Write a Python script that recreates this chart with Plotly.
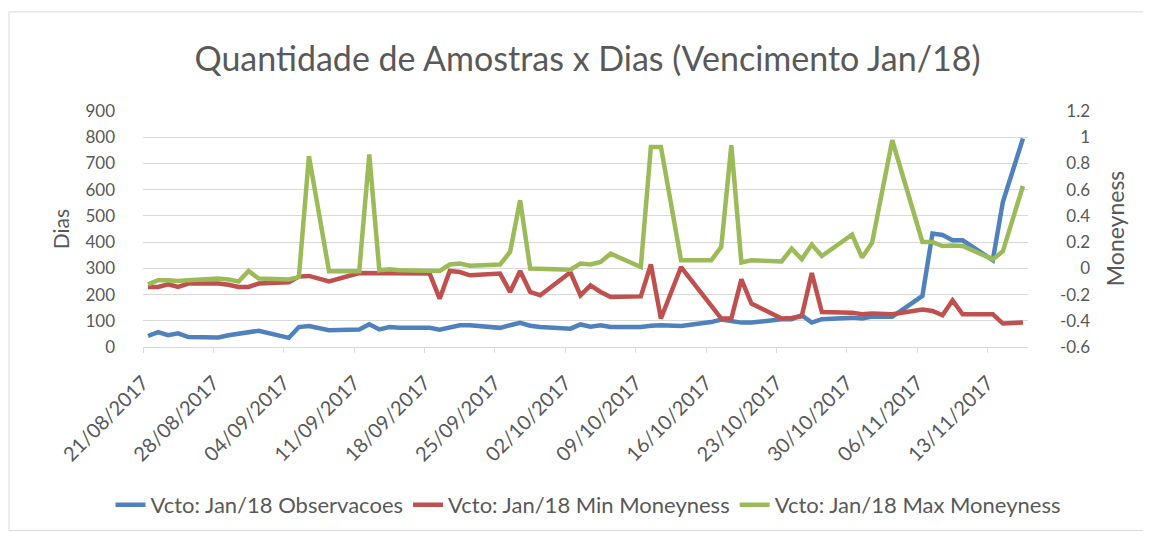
import pandas as pd
import plotly.graph_objects as go

# ---------------- data ----------------
dates = [
    "2017-08-21", "2017-08-22", "2017-08-23", "2017-08-24", "2017-08-25",
    "2017-08-28", "2017-08-29", "2017-08-30", "2017-08-31", "2017-09-01",
    "2017-09-04", "2017-09-05", "2017-09-06", "2017-09-08",
    "2017-09-11", "2017-09-12", "2017-09-13", "2017-09-14", "2017-09-15",
    "2017-09-18", "2017-09-19", "2017-09-20", "2017-09-21", "2017-09-22",
    "2017-09-25", "2017-09-26", "2017-09-27", "2017-09-28", "2017-09-29",
    "2017-10-02", "2017-10-03", "2017-10-04", "2017-10-05", "2017-10-06",
    "2017-10-09", "2017-10-10", "2017-10-11", "2017-10-13",
    "2017-10-16", "2017-10-17", "2017-10-18", "2017-10-19", "2017-10-20",
    "2017-10-23", "2017-10-24", "2017-10-25", "2017-10-26", "2017-10-27",
    "2017-10-30", "2017-10-31", "2017-11-01", "2017-11-03",
    "2017-11-06", "2017-11-07", "2017-11-08", "2017-11-09", "2017-11-10",
    "2017-11-13", "2017-11-14", "2017-11-16",
]

observacoes = [
    42, 57, 45, 52, 38,
    36, 45, 50, 55, 62,
    35, 76, 80, 64,
    67, 87, 67, 76, 73,
    73, 66, 76, 83, 83,
    73, 83, 92, 81, 76,
    70, 86, 77, 83, 76,
    76, 81, 83, 80,
    95, 105, 100, 93, 93,
    106, 106, 121, 93, 106,
    112, 109, 116, 115,
    195, 433, 427, 407, 407,
    331, 553, 795,
]

min_moneyness = [
    -0.142, -0.142, -0.122, -0.142, -0.116,
    -0.116, -0.125, -0.142, -0.142, -0.116,
    -0.106, -0.063, -0.058, -0.099,
    -0.036, -0.036, -0.040, -0.036, -0.036,
    -0.040, -0.231, -0.020, -0.028, -0.053,
    -0.040, -0.180, -0.020, -0.180, -0.206,
    -0.030, -0.206, -0.130, -0.180, -0.219,
    -0.214, 0.029, -0.383, 0.010,
    -0.284, -0.383, -0.383, -0.084, -0.269,
    -0.383, -0.378, -0.365, -0.036, -0.333,
    -0.338, -0.350, -0.345, -0.350,
    -0.315, -0.325, -0.358, -0.244, -0.350,
    -0.350, -0.421, -0.413,
]

max_moneyness = [
    -0.122, -0.091, -0.091, -0.097, -0.090,
    -0.078, -0.085, -0.100, -0.020, -0.078,
    -0.085, -0.066, 0.855, -0.023,
    -0.023, 0.868, -0.015, -0.008, -0.015,
    -0.015, -0.020, 0.029, 0.036, 0.020,
    0.029, 0.125, 0.519, -0.002, -0.004,
    -0.010, 0.036, 0.029, 0.049, 0.112,
    0.010, 0.926, 0.926, 0.061,
    0.061, 0.163, 0.939, 0.044, 0.061,
    0.053, 0.150, 0.069, 0.181, 0.094,
    0.257, 0.082, 0.196, 0.977,
    0.201, 0.200, 0.170, 0.175, 0.170,
    0.069, 0.130, 0.628,
]

x_tick_labels = [
    "21/08/2017", "28/08/2017", "04/09/2017", "11/09/2017", "18/09/2017",
    "25/09/2017", "02/10/2017", "09/10/2017", "16/10/2017", "23/10/2017",
    "30/10/2017", "06/11/2017", "13/11/2017",
]
left_tick_vals = [0, 100, 200, 300, 400, 500, 600, 700, 800, 900]
right_tick_vals = [-0.6, -0.4, -0.2, 0.0, 0.2, 0.4, 0.6, 0.8, 1.0, 1.2]
right_tick_labels = ["-0.6", "-0.4", "-0.2", "0", "0.2", "0.4", "0.6", "0.8", "1", "1.2"]

series_names = [
    "Vcto: Jan/18 Observacoes",
    "Vcto: Jan/18 Min Moneyness",
    "Vcto: Jan/18 Max Moneyness",
]
colors = ["#4F81BD", "#C0504D", "#9BBB59"]

# ---------------- layout geometry (page has an 8px body margin) ----------------
FONT = "Lato"
TXT = "#595959"
GRID = "#D9D9D9"
OFF = 8                      # browser body margin
W, H = 1151, 536
L_PX, R_PX = 143 - OFF, 1028 - OFF      # plot-area left/right in figure px
T_PX, B_PX = 111 - OFF, 346.7 - OFF     # plot-area top/bottom in figure px
PAPER_R = 1150                          # paper right edge (figure px)
paper_w = PAPER_R - L_PX
paper_h = B_PX - T_PX


def px_x(px):
    return (px - L_PX) / paper_w


def px_y(py):
    return (B_PX - py) / paper_h


x = pd.to_datetime(dates)
half_day = pd.Timedelta(hours=12)
tick_dates = pd.to_datetime(x_tick_labels, format="%d/%m/%Y")
tickvals = tick_dates - half_day  # category boundaries (Excel "between tick marks")
x_range = [x.min() - half_day, x.max() + half_day]

fig = go.Figure()
fig.add_trace(go.Scatter(x=x, y=observacoes, name=series_names[0], mode="lines",
                         line=dict(color=colors[0], width=4.5), yaxis="y"))
fig.add_trace(go.Scatter(x=x, y=min_moneyness, name=series_names[1], mode="lines",
                         line=dict(color=colors[1], width=4.5), yaxis="y2"))
fig.add_trace(go.Scatter(x=x, y=max_moneyness, name=series_names[2], mode="lines",
                         line=dict(color=colors[2], width=4.5), yaxis="y2"))

fig.update_layout(
    width=W, height=H,
    margin=dict(l=L_PX, r=W - PAPER_R, t=T_PX, b=H - B_PX, pad=0),
    paper_bgcolor="white", plot_bgcolor="white",
    font=dict(family=FONT, color=TXT, size=17),
    title=dict(text="Quantidade de Amostras x Dias (Vencimento Jan/18)",
               x=(190 + 985) / 2 / W - OFF / W, xref="container", xanchor="center",
               y=1 - (59 - OFF) / H, yref="container", yanchor="middle",
               font=dict(family=FONT, size=34, color=TXT)),
    showlegend=True,
    legend=dict(orientation="h", x=(588 - OFF) / W, xanchor="center", xref="container",
                y=1 - (505 - OFF) / H, yref="container", yanchor="middle",
                font=dict(family=FONT, size=22, color=TXT),
                itemwidth=30, tracegroupgap=0, bgcolor="rgba(0,0,0,0)"),
    xaxis=dict(
        type="date", range=x_range, domain=[0, px_x(R_PX)],
        tickmode="array", tickvals=tickvals, ticktext=x_tick_labels,
        tickangle=-45, tickfont=dict(size=20, color=TXT), ticklabelstandoff=10,
        showgrid=False, zeroline=False, automargin=False,
        showline=True, linecolor=GRID, linewidth=1.3,
        ticks="outside", ticklen=5, tickcolor=GRID, tickwidth=1.3,
    ),
    yaxis=dict(
        range=[0, 900], tickmode="array", tickvals=left_tick_vals,
        tickfont=dict(size=17, color=TXT), ticklabelstandoff=27,
        showgrid=True, gridcolor=GRID, gridwidth=1.3, zeroline=False,
        showline=False, ticks="", automargin=False,
        title=dict(text="Dias", font=dict(size=21, color=TXT), standoff=10),
    ),
    yaxis2=dict(
        range=[-0.6, 1.2], overlaying="y", side="left", anchor="free",
        position=px_x(1090 - OFF), automargin=False,
        tickmode="array", tickvals=right_tick_vals, ticktext=right_tick_labels,
        tickfont=dict(size=17, color=TXT),
        showgrid=False, zeroline=False, showline=False, ticks="",
    ),
    annotations=[dict(text="Moneyness", xref="paper", yref="paper",
                      x=px_x(1115 - OFF), y=px_y(228 - OFF),
                      xanchor="center", yanchor="middle", textangle=-90,
                      showarrow=False, font=dict(family=FONT, size=23, color=TXT))],
    shapes=[dict(type="rect", xref="paper", yref="paper",
                 x0=px_x(9 - OFF), x1=px_x(1145 - OFF),
                 y0=px_y(530 - OFF), y1=px_y(12 - OFF),
                 line=dict(color=GRID, width=1), fillcolor="rgba(0,0,0,0)",
                 layer="below")],
)

fig.write_html("out.html")
